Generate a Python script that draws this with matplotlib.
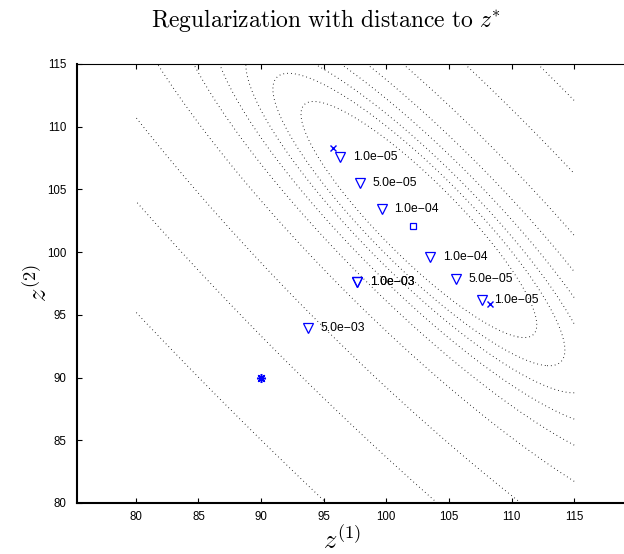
import numpy as np
import matplotlib
matplotlib.use("Agg")
import matplotlib.pyplot as plt

plt.rcParams['mathtext.fontset'] = 'cm'
plt.rcParams['font.family'] = ['Liberation Sans', 'DejaVu Sans']

# ---- data ----
z_star = (90.0, 90.0)
z_true = (102.1, 102.1)
starts_x = [95.76, 108.27]
starts_y = [108.29, 95.87]

path_a_lambda = [1e-5, 5e-5, 1e-4, 1e-3, 5e-3]
path_a_x = [96.29, 97.89, 99.62, 97.68, 93.76]
path_a_y = [107.57, 105.49, 103.42, 97.65, 93.93]

path_b_lambda = [1e-5, 5e-5, 1e-4, 1e-3]
path_b_x = [107.61, 105.53, 103.48, 97.68]
path_b_y = [96.19, 97.84, 99.59, 97.65]

# objective contours: quadratic elongated along (1,-1)
center = 102.6
axis_ratio = 4.2
level_half_widths = [2.18, 2.7, 3.2, 3.8, 4.57, 5.8, 8.1, 10.95, 15.1]

fig = plt.figure(figsize=(6.24, 5.54), dpi=100)
ax = fig.add_axes([77/624, 51/554, 547/624, 439/554])

gx = np.linspace(80, 115, 400)
gy = np.linspace(80, 115, 400)
X, Y = np.meshgrid(gx, gy)
S = (X + Y) / 2 - center
T = (X - Y) / 2
Z = S**2 + (T / axis_ratio)**2
levels = [w**2 for w in level_half_widths]
cs = ax.contour(X, Y, Z, levels=levels, colors='black', linewidths=0.7)
cs.set_linestyle((0, (0.8, 3.2)))

blue = '#0000ff'
ax.plot(starts_x, starts_y, 'x', color=blue, ms=4.5, mew=1.0)
ax.plot([z_true[0]], [z_true[1]], 's', mfc='none', mec=blue, ms=5, mew=0.9)
ax.plot([z_star[0]], [z_star[1]], marker=(8, 2, 0), color=blue, ms=6.5, mew=1.1, ls='none')

for lams, xs, ys in [(path_a_lambda, path_a_x, path_a_y), (path_b_lambda, path_b_x, path_b_y)]:
    ax.plot(xs, ys, 'v', mfc='none', mec=blue, ms=6.5, mew=0.9, ls='none')
    for lam, x, y in zip(lams, xs, ys):
        ax.annotate(f'{lam:.1e}'.replace('-', '\u2212'), (x, y), xytext=(9.2, 0),
                    textcoords='offset points', ha='left', va='center', fontsize=8.7)

ax.set_xlim(75.3, 80 + (624 - 136) / 12.52)
ax.set_ylim(80, 115)
ax.set_xticks([80, 85, 90, 95, 100, 105, 110, 115])
ax.set_yticks([80, 85, 90, 95, 100, 105, 110, 115])
ax.tick_params(direction='in', length=3.6, width=0.8, top=True, right=False,
               labelsize=8.3, pad=7.5)
ax.tick_params(axis='x', pad=5.5)
ax.spines['right'].set_visible(False)
ax.spines['left'].set_linewidth(1.5)
ax.spines['bottom'].set_linewidth(1.5)
ax.spines['top'].set_linewidth(0.8)

fig.text(326/624, 1 - 21/554, r'$\mathrm{Regularization\ with\ distance\ to}\ z^{*}$',
         ha='center', va='center', fontsize=17)
fig.text(342/624, 1 - 540/554, r'$z^{(1)}$', ha='center', va='center', fontsize=19)
fig.text(38/624, 1 - 283/554, r'$z^{(2)}$', ha='center', va='center', fontsize=19, rotation=90)

fig.savefig('out.png', dpi=100)
